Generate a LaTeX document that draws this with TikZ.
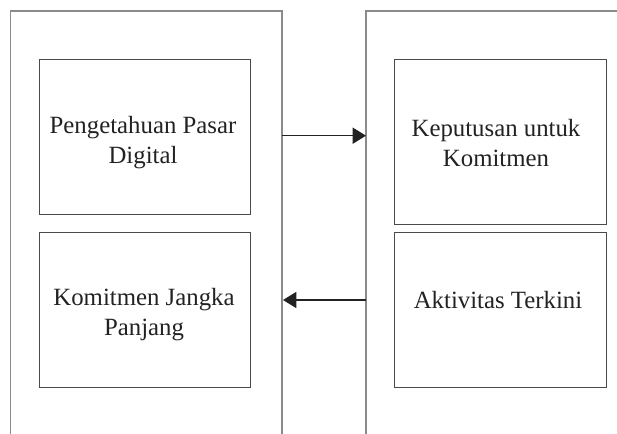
\documentclass[tikz,border=0pt]{standalone}
\usepackage{fontspec}
\setmainfont{Liberation Serif}
\usetikzlibrary{arrows.meta}
\definecolor{outerc}{HTML}{8A8A8A}
\definecolor{innerc}{HTML}{4A4A4A}
\definecolor{txtc}{HTML}{222222}
\tikzset{
  outerline/.style={draw=outerc, line width=1pt},
  boxnode/.style={draw=innerc, line width=0.85pt, rectangle, inner sep=0pt, anchor=north west},
  txtnode/.style={text=txtc, align=center, font=\fontsize{18.6pt}{22.5pt}\selectfont, inner sep=0pt},
  conn/.style={draw=txtc, line width=1.2pt, -{Triangle[length=10pt, width=12pt]}}
}
\begin{document}
\begin{tikzpicture}[x=0.75pt, y=-0.75pt]
\useasboundingbox (0,0) rectangle (617,434);
% containers
\draw[outerline] (10.5,434) -- (10.5,11) -- (282,11) -- (282,434);
\draw[outerline] (366,434) -- (366,11) -- (617,11);
% inner boxes
\node[boxnode, minimum width=211*0.75pt, minimum height=155*0.75pt] (b1) at (39,59) {};
\node[boxnode, minimum width=211*0.75pt, minimum height=155*0.75pt] (b2) at (39,232) {};
\node[boxnode, minimum width=212*0.75pt, minimum height=165*0.75pt] (b3) at (394,59) {};
\node[boxnode, minimum width=212*0.75pt, minimum height=155*0.75pt] (b4) at (394,232) {};
% texts
\node[txtnode] (t1) at (143,143) {Pengetahuan Pasar\\Digital};
\node[txtnode] (t2) at (144,315) {Komitmen Jangka\\Panjang};
\node[txtnode] (t3) at (496,143) {Keputusan untuk\\Komitmen};
\node[txtnode] (t4) at (498,300) {Aktivitas Terkini};
% connector ends on container edges
\coordinate (la) at (282,135.7);
\coordinate (ra) at (366,135.7);
\coordinate (rb) at (366,300);
\coordinate (lb) at (283,300);
\draw[conn] (la) -- (ra);
\draw[conn] (rb) -- (lb);
\end{tikzpicture}
\end{document}
